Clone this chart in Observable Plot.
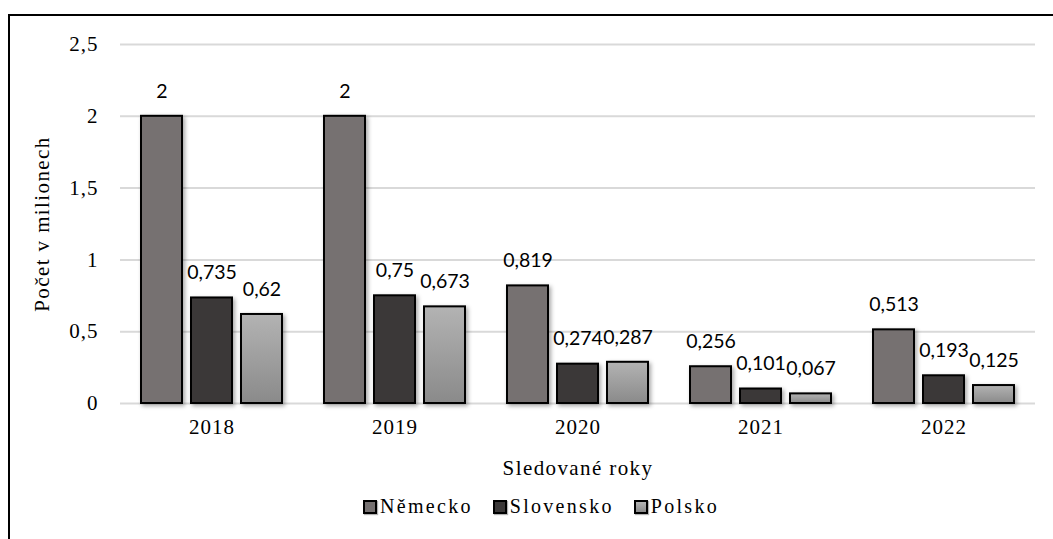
<!DOCTYPE html>
<html><head><meta charset="utf-8">
<script src="https://cdn.jsdelivr.net/npm/d3@7"></script>
<script src="https://cdn.jsdelivr.net/npm/@observablehq/plot@0.6"></script>
<style>
body{margin:0;background:#fff;width:1053px;height:539px;overflow:hidden;position:relative}
#frame{position:absolute;left:8px;top:14px;width:1100px;height:600px;border-left:2px solid #000;border-top:2px solid #000;box-sizing:border-box}
#chart{position:absolute;left:0;top:0}
#chart svg g[aria-label="bar"] rect{filter:drop-shadow(2px 2px 2px rgba(0,0,0,0.35))}
#chart svg g[aria-label$="axis tick label"] text{letter-spacing:1px}
#chart svg g[aria-label$="axis label"] text{letter-spacing:1.4px}
#legend{position:absolute;top:495px;left:363px;display:flex;align-items:center;font-family:"Liberation Serif","Times New Roman",serif;font-size:20px;letter-spacing:2.3px;color:#000}
#legend .item{display:flex;align-items:center;margin-right:20px}
#legend .sw{width:10px;height:10px;border:2px solid #000;margin-right:3px;box-shadow:1px 1px 1px rgba(0,0,0,0.3)}
</style>
</head><body>
<div id="frame"></div>
<div id="chart"></div>
<div id="legend"></div>
<script>
const years = ["2018","2019","2020","2021","2022"];
const countries = ["Německo","Slovensko","Polsko"];
const nemecko = [2,2,0.819,0.256,0.513];
const slovensko = [0.735,0.75,0.274,0.101,0.193];
const polsko = [0.62,0.673,0.287,0.067,0.125];
const yTicks = [0,0.5,1,1.5,2,2.5];
const colors = ["#767171","#3b3838","url(#polskoGrad)"];

const series = [nemecko, slovensko, polsko];
const data = [];
years.forEach((y,i)=>countries.forEach((c,j)=>data.push({year:y,country:c,value:series[j][i]})));
const fmt = v => String(v).replace(".", ",");

const defs = () => {
  const d = d3.create("svg:defs");
  const g = d.append("linearGradient").attr("id","polskoGrad").attr("x1",0).attr("y1",0).attr("x2",0).attr("y2",1);
  g.append("stop").attr("offset","0%").attr("stop-color","#b3b3b3");
  g.append("stop").attr("offset","100%").attr("stop-color","#8a8a8a");
  return d.node();
};

const chart = Plot.plot({
  width:1053, height:480,
  marginTop:44, marginBottom:77, marginLeft:118, marginRight:17,
  style:{fontFamily:"'Liberation Serif','Times New Roman',serif", fontSize:"21px", color:"#000", background:"transparent", overflow:"visible"},
  fx:{domain:years, padding:0},
  x:{domain:countries, paddingInner:0.176, paddingOuter:0.388, axis:null},
  y:{domain:[0,2.5], axis:null},
  color:{domain:countries, range:colors},
  marks:[
    defs,
    Plot.gridY({ticks:yTicks, stroke:"#d9d9d9", strokeWidth:2, strokeOpacity:1}),
    Plot.axisY({ticks:yTicks, tickSize:0, tickPadding:22, tickFormat:fmt, fontSize:21,
      label:"Počet v milionech", labelAnchor:"center", labelOffset:86, labelArrow:"none"}),
    Plot.axisFx({anchor:"bottom", tickSize:0, tickPadding:16, fontSize:21,
      label:"Sledované roky", labelAnchor:"center", labelOffset:71, labelArrow:"none"}),
    Plot.barY(data,{fx:"year", x:"country", y:"value", fill:"country", stroke:"#000", strokeWidth:2}),
    Plot.text(data,{fx:"year", x:"country", y:"value", text:d=>fmt(d.value), dy:-25,
      fontFamily:"Lato", fontSize:19.5, fill:"#000"})
  ]
});
document.getElementById("chart").append(chart);

const leg = document.getElementById("legend");
countries.forEach((c,i)=>{
  const it = document.createElement("div"); it.className="item";
  const sw = document.createElement("div"); sw.className="sw";
  sw.style.background = i===2 ? "linear-gradient(#b3b3b3,#8a8a8a)" : colors[i];
  const t = document.createElement("span"); t.textContent = c;
  it.append(sw,t); leg.append(it);
});
</script>
</body></html>
